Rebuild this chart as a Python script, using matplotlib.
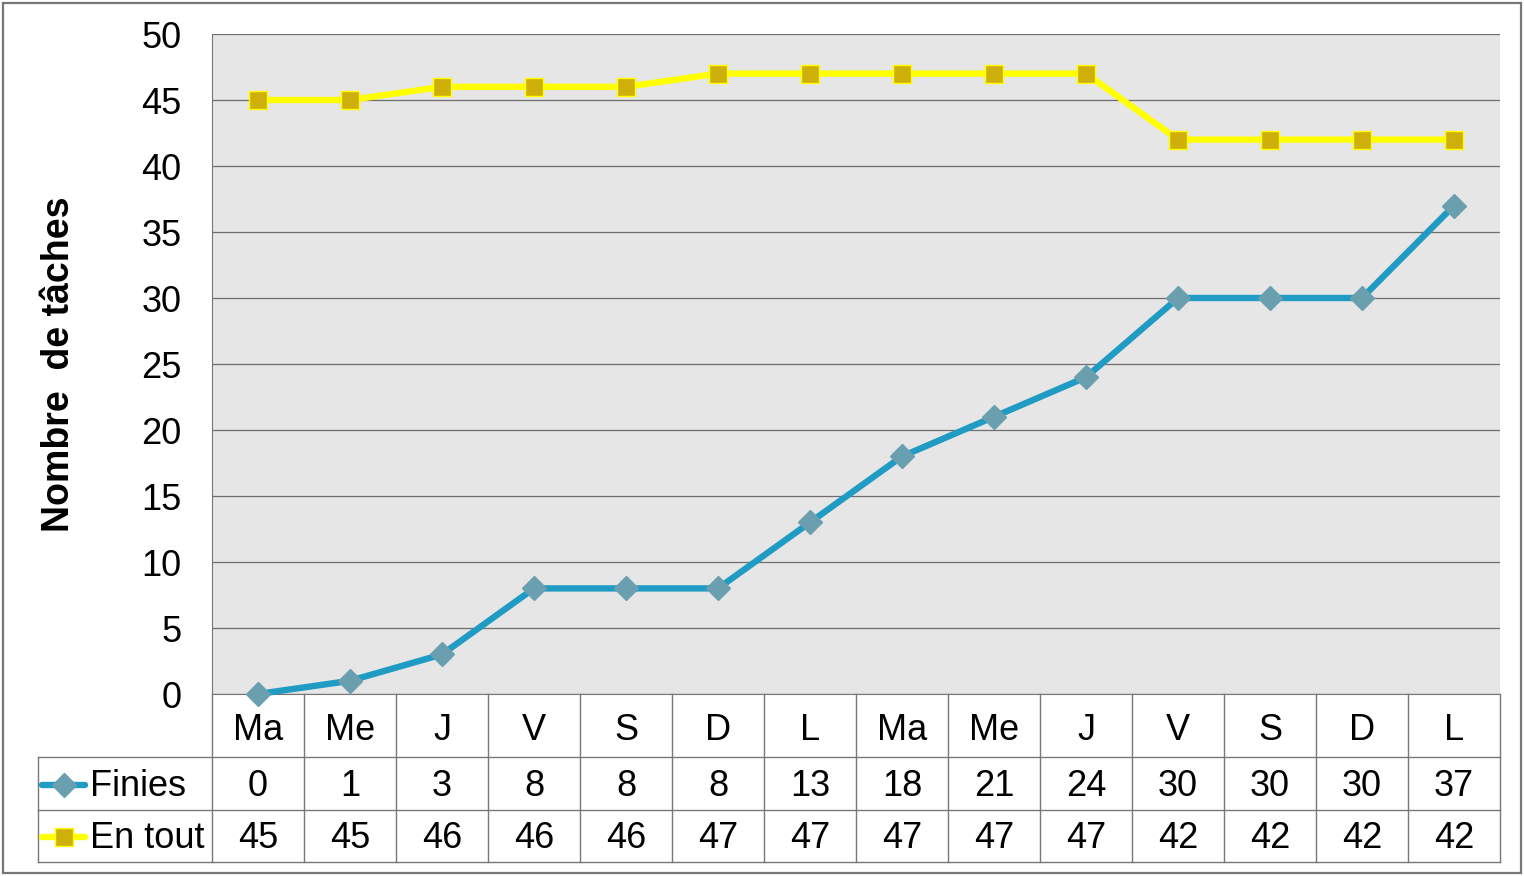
import matplotlib
matplotlib.use('Agg')
import matplotlib.pyplot as plt
from matplotlib.patches import Rectangle
from matplotlib.lines import Line2D

plt.rcParams['font.family'] = ['Liberation Sans', 'DejaVu Sans']

# Données du graphique
jours = ['Ma', 'Me', 'J', 'V', 'S', 'D', 'L', 'Ma', 'Me', 'J', 'V', 'S', 'D', 'L']
finies = [0, 1, 3, 8, 8, 8, 13, 18, 21, 24, 30, 30, 30, 37]
en_tout = [45, 45, 46, 46, 46, 47, 47, 47, 47, 47, 42, 42, 42, 42]
series_noms = ['Finies', 'En tout']
y_ticks = [0, 5, 10, 15, 20, 25, 30, 35, 40, 45, 50]

W, H = 1524, 876
fig = plt.figure(figsize=(W / 100, H / 100), dpi=100)
ax = fig.add_axes([212 / W, (H - 694) / H, (1500 - 212) / W, (694 - 34) / H])

gris = '#777777'
bleu = '#1f9bc4'
bleu_marq = '#6a9fb0'
jaune = '#ffff00'
jaune_marq = '#cfb00a'
fs = 26
lw = 4.6

ax.set_facecolor('#e6e6e6')
x = list(range(len(jours)))
ax.plot(x, finies, color=bleu, lw=lw, marker='D', ms=12,
        mfc=bleu_marq, mec=bleu_marq, zorder=3, clip_on=False)
ax.plot(x, en_tout, color=jaune, lw=lw, marker='s', ms=13,
        mfc=jaune_marq, mec=jaune, mew=1, zorder=3, clip_on=False)

ax.set_xlim(-0.5, len(jours) - 0.5)
ax.set_ylim(0, 50)
ax.set_yticks(y_ticks)
ax.set_xticks([])
ax.tick_params(axis='y', length=0, pad=22, labelsize=fs)
ax.yaxis.grid(True, color='#6e6e6e', lw=0.9)
ax.set_axisbelow(True)
for s in ['top', 'right']:
    ax.spines[s].set_visible(False)
ax.spines['left'].set_color(gris)
ax.spines['bottom'].set_color(gris)
ax.set_ylabel('Nombre  de tâches', fontsize=27, fontweight='bold', labelpad=46)

# Tableau de données sous le graphique
ah = 694 - 34
r1 = -63 / ah
r2 = -116 / ah
r3 = -168 / ah
x_leg = (38 - 212) / (1500 - 212)
trans = ax.get_xaxis_transform()

def ligne(xs, ys, transform):
    ax.add_line(Line2D(xs, ys, transform=transform, color=gris, lw=1, clip_on=False))

for k in range(len(jours) + 1):
    ligne([k - 0.5, k - 0.5], [0, r3], trans)
ligne([x_leg, x_leg], [r1, r3], ax.transAxes)
for yy in [r1, r2, r3]:
    ligne([x_leg, 1], [yy, yy], ax.transAxes)

for i, j in enumerate(jours):
    ax.text(i, -36 / ah, j, transform=trans, ha='center', va='center', fontsize=fs)
    ax.text(i, -93 / ah, str(finies[i]), transform=trans, ha='center', va='center', fontsize=fs)
    ax.text(i, -145 / ah, str(en_tout[i]), transform=trans, ha='center', va='center', fontsize=fs)

# Légende dans la colonne de gauche
aw = 1500 - 212
lx0 = (42 - 212) / aw
lx1 = (85 - 212) / aw
lxm = (64 - 212) / aw
ltx = (90 - 212) / aw
for yc, col, mk, ms, mfc, mec, nom in [
        (-91 / ah, bleu, 'D', 12, bleu_marq, bleu_marq, series_noms[0]),
        (-143 / ah, jaune, 's', 13, jaune_marq, jaune, series_noms[1])]:
    ax.add_line(Line2D([lx0, lx1], [yc, yc], transform=ax.transAxes, color=col,
                       lw=lw, solid_capstyle='round', clip_on=False))
    ax.add_line(Line2D([lxm], [yc], transform=ax.transAxes, marker=mk, ms=ms,
                       mfc=mfc, mec=mec, mew=1, clip_on=False))
    ax.text(ltx, yc - 2 / ah, nom, transform=ax.transAxes, ha='left', va='center', fontsize=fs)

# Cadre extérieur
fig.patches.append(Rectangle((3 / W, 3 / H), (W - 6) / W, (H - 6) / H,
                             transform=fig.transFigure, fill=False,
                             edgecolor=gris, lw=1.6))

fig.savefig('out.png', dpi=100)
